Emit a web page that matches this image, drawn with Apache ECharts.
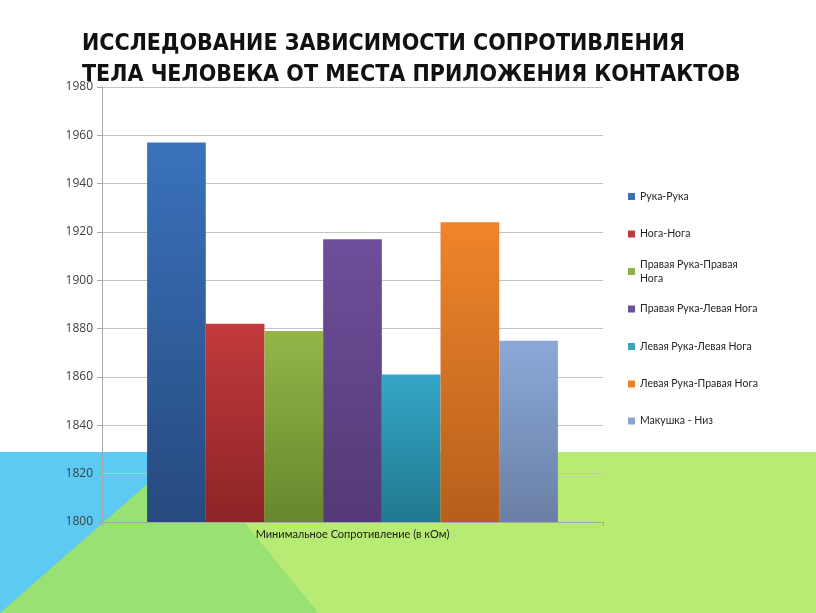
<!DOCTYPE html>
<html><head><meta charset="utf-8">
<script src="https://cdn.jsdelivr.net/npm/echarts@6/dist/echarts.min.js"></script>
<style>html,body{margin:0;padding:0;background:#fff}#c{width:816px;height:613px}</style>
</head><body><div id="c"></div>
<script>
const titleLines = ['ИССЛЕДОВАНИЕ ЗАВИСИМОСТИ СОПРОТИВЛЕНИЯ', 'ТЕЛА ЧЕЛОВЕКА ОТ МЕСТА ПРИЛОЖЕНИЯ КОНТАКТОВ'];
const categories = ['Минимальное Сопротивление (в кОм)'];
const seriesNames = ['Рука-Рука', 'Нога-Нога', 'Правая Рука-Правая Нога', 'Правая Рука-Левая Нога', 'Левая Рука-Левая Нога', 'Левая Рука-Правая Нога', 'Макушка - Низ'];
const legendLabels = ['Рука-Рука', 'Нога-Нога', 'Правая Рука-Правая\nНога', 'Правая Рука-Левая Нога', 'Левая Рука-Левая Нога', 'Левая Рука-Правая Нога', 'Макушка - Низ'];
const values = [1957, 1882, 1879, 1917, 1861, 1924, 1875];
const yMin = 1800, yMax = 1980, yStep = 20;

const topColors = ['#3a72bc', '#c23a3b', '#93b547', '#6f4e9b', '#35a7c7', '#ef852b', '#8aa9d9'];
const bottomColors = ['#264a7e', '#8c2427', '#68872e', '#533a76', '#217990', '#b65f1c', '#6a7fa5'];
const legendColors = ['#3f6fb5', '#be3a3b', '#8fb14d', '#6b4f96', '#3aa3c0', '#e9832d', '#89a6d3'];
const legendCenters = [196.5, 234, 271.5, 309, 346.5, 384, 421];

const chart = echarts.init(document.getElementById('c'));
const series = seriesNames.map((n, i) => ({
  name: n, type: 'bar', barGap: 0, barCategoryGap: '18%',
  data: [values[i]],
  itemStyle: { color: new echarts.graphic.LinearGradient(0, 0, 0, 1, [
    { offset: 0, color: topColors[i] }, { offset: 1, color: bottomColors[i] }]) }
}));
const legends = seriesNames.map((n, i) => {
  const two = legendLabels[i].indexOf('\n') >= 0;
  return {
    left: 628, top: two ? legendCenters[i] - 21 : legendCenters[i] - 7,
    padding: 0, itemWidth: 7, itemHeight: 7, orient: 'vertical',
    data: [{ name: n, icon: 'rect', itemStyle: { color: legendColors[i] } }],
    formatter: () => legendLabels[i],
    textStyle: { fontFamily: "Lato, 'Open Sans', sans-serif", fontSize: 10.5, color: '#262626', lineHeight: 14,
      padding: two ? [14, 0, 0, 0] : 0 },
    selectedMode: false
  };
});
chart.setOption({
  backgroundColor: '#ffffff',
  animation: false,
  graphic: [
    { type: 'rect', z: -10, shape: { x: 0, y: 452, width: 400, height: 161 }, style: { fill: '#5ccaf2' } },
    { type: 'polygon', z: -9, shape: { points: [[186, 452], [816, 452], [816, 613], [318, 613]] }, style: { fill: '#b7eb74' } },
    { type: 'polygon', z: -8, shape: { points: [[186, 450], [0, 613], [318, 613]] }, style: { fill: '#99e172' } }
  ],
  title: {
    text: titleLines.join('\n'), left: 82, top: 29, padding: 0,
    textStyle: { fontFamily: "'DejaVu Sans Condensed', 'Liberation Sans Narrow', sans-serif", fontWeight: 'bold', fontSize: 23, lineHeight: 31, color: '#111' }
  },
  legend: legends,
  grid: { left: 102, right: 213, top: 87, bottom: 91 },
  xAxis: {
    type: 'category', data: categories,
    name: categories[0], nameLocation: 'middle', nameGap: 7,
    nameTextStyle: { fontFamily: "Lato, 'Open Sans', sans-serif", fontSize: 11, color: '#1a1a1a' },
    axisLine: { lineStyle: { color: '#a6a6a6' } },
    axisTick: { show: true, length: 4, lineStyle: { color: '#a6a6a6' } },
    axisLabel: { show: false }
  },
  yAxis: {
    type: 'value', min: yMin, max: yMax, interval: yStep,
    axisLine: { show: true, lineStyle: { color: '#a6a6a6' } },
    axisTick: { show: true, length: 5, lineStyle: { color: '#a6a6a6' } },
    axisLabel: { margin: 9, fontFamily: "'Open Sans', sans-serif", fontSize: 12, color: '#404040',
      formatter: v => String(v) },
    splitLine: { lineStyle: { color: '#c4c4c4' } }
  },
  series: series
});
</script></body></html>
